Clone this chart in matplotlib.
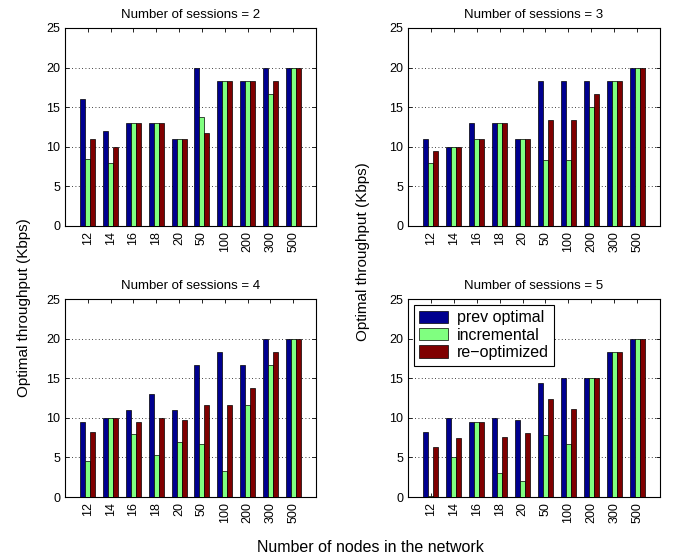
import matplotlib
matplotlib.use('Agg')

import matplotlib.pyplot as plt
import numpy as np

plt.rcParams['font.family'] = ['Liberation Sans', 'DejaVu Sans']

# ------------------------------------------------------------------
#  Data
# ------------------------------------------------------------------
nodes = ["12", "14", "16", "18", "20", "50", "100", "200", "300", "500"]
sessions = [2, 3, 4, 5]
series_names = ["prev optimal", "incremental", "re\u2212optimized"]

prev_s2 = [16, 12, 13, 13, 11, 20, 18.33, 18.33, 20, 20]
incr_s2 = [8.5, 8, 13, 13, 11, 13.8, 18.33, 18.33, 16.67, 20]
reopt_s2 = [11, 10, 13, 13, 11, 11.7, 18.33, 18.33, 18.33, 20]

prev_s3 = [11, 10, 13, 13, 11, 18.33, 18.33, 18.33, 18.33, 20]
incr_s3 = [8, 10, 11, 13, 11, 8.33, 8.33, 15, 18.33, 20]
reopt_s3 = [9.5, 10, 11, 13, 11, 13.33, 13.33, 16.67, 18.33, 20]

prev_s4 = [9.5, 10, 11, 13, 11, 16.67, 18.33, 16.67, 20, 20]
incr_s4 = [4.5, 10, 8, 5.25, 7, 6.67, 3.33, 11.67, 16.67, 20]
reopt_s4 = [8.25, 10, 9.5, 10, 9.7, 11.67, 11.67, 13.8, 18.33, 20]

prev_s5 = [8.2, 10, 9.5, 10, 9.7, 14.4, 15, 15, 18.33, 20]
incr_s5 = [0.1, 5, 9.5, 3, 2, 7.8, 6.67, 15, 18.33, 20]
reopt_s5 = [6.3, 7.5, 9.5, 7.6, 8.1, 12.4, 11.1, 15, 18.33, 20]

panel_data = [
    (prev_s2, incr_s2, reopt_s2),
    (prev_s3, incr_s3, reopt_s3),
    (prev_s4, incr_s4, reopt_s4),
    (prev_s5, incr_s5, reopt_s5),
]

colors = ['#00008F', '#80FF80', '#800000']

# ------------------------------------------------------------------
#  Figure
# ------------------------------------------------------------------
fig = plt.figure(figsize=(6.75, 5.58), dpi=100)
W, H = 675.0, 558.0

# axes boxes in pixels: (left, top, right, bottom)
boxes = [
    (65, 28, 316, 226),
    (408, 28, 660, 226),
    (65, 299, 316, 497),
    (408, 299, 660, 497),
]

x = np.arange(len(nodes))
bw = 0.22

for i, (box, data) in enumerate(zip(boxes, panel_data)):
    l, t, r, b = box
    ax = fig.add_axes([l / W, 1 - b / H, (r - l) / W, (b - t) / H])
    bars = []
    for k, vals in enumerate(data):
        bb = ax.bar(x + (k - 1) * bw, vals, width=bw, color=colors[k],
                    edgecolor='black', linewidth=0.5, zorder=3)
        bars.append(bb)

    ax.set_xlim(-1, len(nodes))
    ax.set_ylim(0, 25)
    ax.set_yticks([0, 5, 10, 15, 20, 25])
    ax.set_xticks(x)
    ax.set_xticklabels(nodes, rotation=90, fontsize=9)
    ax.tick_params(axis='y', labelsize=9)
    ax.tick_params(direction='in', top=True, right=True, length=3, width=0.6)
    ax.grid(axis='y', linestyle=(0, (1, 3)), color='black', linewidth=0.6, zorder=0)
    for sp in ax.spines.values():
        sp.set_linewidth(0.8)

    ax.set_title("Number of sessions = %d" % sessions[i], fontsize=9.5, pad=7)

    if i == 3:
        leg = ax.legend(bars, series_names, loc='upper left', fontsize=11.5,
                        fancybox=False, framealpha=1, edgecolor='black',
                        handlelength=1.8, handleheight=0.8, borderpad=0.35,
                        labelspacing=0.15, handletextpad=0.55,
                        bbox_to_anchor=(0.0, 1.0), borderaxespad=0.35)
        leg.get_frame().set_linewidth(0.8)

# one y label per column, placed as in the original
fig.text(24 / W, 1 - 308 / H, "Optimal throughput (Kbps)", rotation=90,
         ha='center', va='center', fontsize=11)
fig.text(363 / W, 1 - 252 / H, "Optimal throughput (Kbps)", rotation=90,
         ha='center', va='center', fontsize=11)

fig.text(370 / W, 1 - 548 / H, "Number of nodes in the network",
         ha='center', va='center', fontsize=11.5)

fig.savefig("out.png", dpi=100)
